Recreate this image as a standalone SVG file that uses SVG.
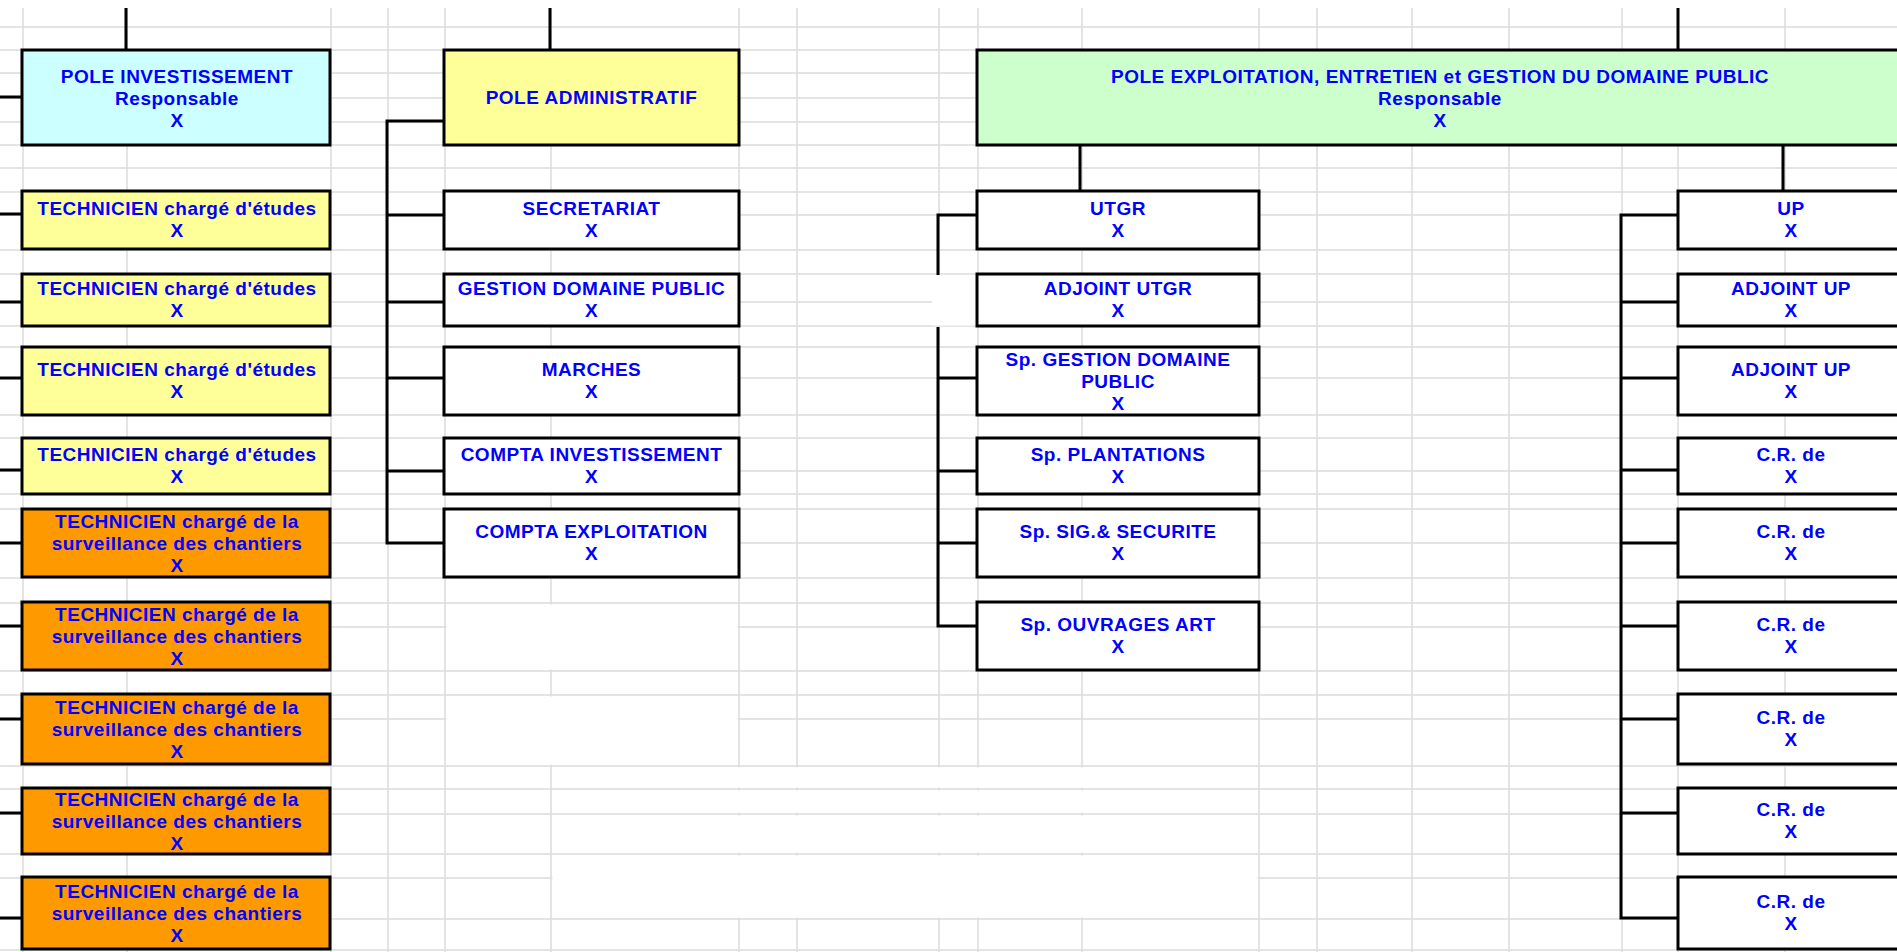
<svg xmlns="http://www.w3.org/2000/svg" width="1897" height="952" viewBox="0 0 1897 952">
<style>
.grid{stroke:#dcdcdc;stroke-width:1.5;fill:none}
.box{stroke:#000;stroke-width:3}
.cy{fill:#CCFFFF}.ye{fill:#FFFF99}.gr{fill:#CCFFCC}.or{fill:#FF9900}.wh{fill:#FFFFFF}
.t{font-family:"Liberation Sans",Arial,sans-serif;font-weight:bold;font-size:19px;fill:#0000FF;text-anchor:middle;letter-spacing:0.5px}
.c{stroke:#000;stroke-width:3;fill:none}
</style>
<rect x="0" y="0" width="1897" height="952" fill="#FFFFFF"/>
<g id="grid">
<path class="grid" d="M23 8V952M127 8V952M331 8V952M388 8V952M445 8V952M551 8V952M739 8V952M797 8V952M939 8V952M978 8V952M1082 8V952M1259 8V952M1317 8V952M1412 8V952M1509 8V952M1622 8V952M1678 8V952M1785 8V952"/>
<path class="grid" d="M0 27H1897M0 50H1897M0 73H1897M0 98H1897M0 122H1897M0 145H1897M0 168H1897M0 192H1897M0 215H1897M0 250H1897M0 274H1897M0 302H1897M0 326H1897M0 347H1897M0 378H1897M0 415H1897M0 438H1897M0 471H1897M0 494H1897M0 509H1897M0 543H1897M0 578H1897M0 603H1897M0 627H1897M0 671H1897M0 695H1897M0 719H1897M0 766H1897M0 789H1897M0 814H1897M0 854H1897M0 878H1897M0 919H1897M0 950H1897"/>
<g fill="#FFFFFF">
<rect x="446.5" y="604.5" width="291" height="65"/>
<rect x="446.5" y="696.5" width="291" height="68"/>
<rect x="552.5" y="767.5" width="705" height="20"/>
<rect x="552.5" y="790.5" width="705" height="22"/>
<rect x="552.5" y="815.5" width="705" height="37"/>
<rect x="552.5" y="855.5" width="705" height="62"/>
<rect x="932" y="275.5" width="44" height="50"/>
</g>
</g>
<g id="connectors">
<path class="c" d="M126 8V50M550 8V50M1678 8V50"/>
<path class="c" d="M0 97H22M0 214H22M0 302H22M0 378H22M0 470H22M0 543H22M0 626H22M0 719H22M0 813H22M0 918H22"/>
<path class="c" d="M444 121H387V543H444M387 215H444M387 302H444M387 378H444M387 471H444"/>
<path class="c" d="M1080 145V191M977 215H938V275M938 327V626H977M938 378H977M938 471H977M938 543H977"/>
<path class="c" d="M1783 145V191M1678 215H1621V918H1678M1621 302H1678M1621 378H1678M1621 470H1678M1621 543H1678M1621 626H1678M1621 719H1678M1621 813H1678"/>
</g>
<g id="pole-investissement"><rect class="box cy" x="22" y="50" width="308" height="95"/><text class="t" x="177" y="82.5">POLE INVESTISSEMENT</text><text class="t" x="177" y="104.5">Responsable</text><text class="t" x="177" y="126.5">X</text></g>
<g id="tech-etudes-1"><rect class="box ye" x="22" y="191" width="308" height="58"/><text class="t" x="177" y="215">TECHNICIEN chargé d'études</text><text class="t" x="177" y="237">X</text></g>
<g id="tech-etudes-2"><rect class="box ye" x="22" y="274" width="308" height="52"/><text class="t" x="177" y="295">TECHNICIEN chargé d'études</text><text class="t" x="177" y="317">X</text></g>
<g id="tech-etudes-3"><rect class="box ye" x="22" y="347" width="308" height="68"/><text class="t" x="177" y="376">TECHNICIEN chargé d'études</text><text class="t" x="177" y="398">X</text></g>
<g id="tech-etudes-4"><rect class="box ye" x="22" y="438" width="308" height="56"/><text class="t" x="177" y="461">TECHNICIEN chargé d'études</text><text class="t" x="177" y="483">X</text></g>
<g id="tech-chantiers-1"><rect class="box or" x="22" y="509" width="308" height="68"/><text class="t" x="177" y="528">TECHNICIEN chargé de la</text><text class="t" x="177" y="550">surveillance des chantiers</text><text class="t" x="177" y="572">X</text></g>
<g id="tech-chantiers-2"><rect class="box or" x="22" y="602" width="308" height="68"/><text class="t" x="177" y="621">TECHNICIEN chargé de la</text><text class="t" x="177" y="643">surveillance des chantiers</text><text class="t" x="177" y="665">X</text></g>
<g id="tech-chantiers-3"><rect class="box or" x="22" y="694" width="308" height="70"/><text class="t" x="177" y="714">TECHNICIEN chargé de la</text><text class="t" x="177" y="736">surveillance des chantiers</text><text class="t" x="177" y="758">X</text></g>
<g id="tech-chantiers-4"><rect class="box or" x="22" y="788" width="308" height="66"/><text class="t" x="177" y="806">TECHNICIEN chargé de la</text><text class="t" x="177" y="828">surveillance des chantiers</text><text class="t" x="177" y="850">X</text></g>
<g id="tech-chantiers-5"><rect class="box or" x="22" y="877" width="308" height="72"/><text class="t" x="177" y="898">TECHNICIEN chargé de la</text><text class="t" x="177" y="920">surveillance des chantiers</text><text class="t" x="177" y="942">X</text></g>
<g id="pole-administratif"><rect class="box ye" x="444" y="50" width="295" height="95"/><text class="t" x="591.5" y="104">POLE ADMINISTRATIF</text></g>
<g id="secretariat"><rect class="box wh" x="444" y="191" width="295" height="58"/><text class="t" x="591.5" y="215">SECRETARIAT</text><text class="t" x="591.5" y="237">X</text></g>
<g id="gestion-domaine-public"><rect class="box wh" x="444" y="274" width="295" height="52"/><text class="t" x="591.5" y="295">GESTION DOMAINE PUBLIC</text><text class="t" x="591.5" y="317">X</text></g>
<g id="marches"><rect class="box wh" x="444" y="347" width="295" height="68"/><text class="t" x="591.5" y="376">MARCHES</text><text class="t" x="591.5" y="398">X</text></g>
<g id="compta-investissement"><rect class="box wh" x="444" y="438" width="295" height="56"/><text class="t" x="591.5" y="461">COMPTA INVESTISSEMENT</text><text class="t" x="591.5" y="483">X</text></g>
<g id="compta-exploitation"><rect class="box wh" x="444" y="509" width="295" height="68"/><text class="t" x="591.5" y="538">COMPTA EXPLOITATION</text><text class="t" x="591.5" y="560">X</text></g>
<g id="pole-exploitation"><rect class="box gr" x="977" y="50" width="930" height="95"/><text class="t" x="1440" y="82.5">POLE EXPLOITATION, ENTRETIEN et GESTION DU DOMAINE PUBLIC</text><text class="t" x="1440" y="104.5">Responsable</text><text class="t" x="1440" y="126.5">X</text></g>
<g id="utgr"><rect class="box wh" x="977" y="191" width="282" height="58"/><text class="t" x="1118" y="215">UTGR</text><text class="t" x="1118" y="237">X</text></g>
<g id="adjoint-utgr"><rect class="box wh" x="977" y="274" width="282" height="52"/><text class="t" x="1118" y="295">ADJOINT UTGR</text><text class="t" x="1118" y="317">X</text></g>
<g id="sp-gestion"><rect class="box wh" x="977" y="347" width="282" height="68"/><text class="t" x="1118" y="366">Sp. GESTION DOMAINE</text><text class="t" x="1118" y="388">PUBLIC</text><text class="t" x="1118" y="410">X</text></g>
<g id="sp-plantations"><rect class="box wh" x="977" y="438" width="282" height="56"/><text class="t" x="1118" y="461">Sp. PLANTATIONS</text><text class="t" x="1118" y="483">X</text></g>
<g id="sp-sig"><rect class="box wh" x="977" y="509" width="282" height="68"/><text class="t" x="1118" y="538">Sp. SIG.&amp; SECURITE</text><text class="t" x="1118" y="560">X</text></g>
<g id="sp-ouvrages"><rect class="box wh" x="977" y="602" width="282" height="68"/><text class="t" x="1118" y="631">Sp. OUVRAGES ART</text><text class="t" x="1118" y="653">X</text></g>
<g id="up"><rect class="box wh" x="1678" y="191" width="230" height="58"/><text class="t" x="1791" y="215">UP</text><text class="t" x="1791" y="237">X</text></g>
<g id="adjoint-up-1"><rect class="box wh" x="1678" y="274" width="230" height="52"/><text class="t" x="1791" y="295">ADJOINT UP</text><text class="t" x="1791" y="317">X</text></g>
<g id="adjoint-up-2"><rect class="box wh" x="1678" y="347" width="230" height="68"/><text class="t" x="1791" y="376">ADJOINT UP</text><text class="t" x="1791" y="398">X</text></g>
<g id="cr-1"><rect class="box wh" x="1678" y="438" width="230" height="56"/><text class="t" x="1791" y="461">C.R. de</text><text class="t" x="1791" y="483">X</text></g>
<g id="cr-2"><rect class="box wh" x="1678" y="509" width="230" height="68"/><text class="t" x="1791" y="538">C.R. de</text><text class="t" x="1791" y="560">X</text></g>
<g id="cr-3"><rect class="box wh" x="1678" y="602" width="230" height="68"/><text class="t" x="1791" y="631">C.R. de</text><text class="t" x="1791" y="653">X</text></g>
<g id="cr-4"><rect class="box wh" x="1678" y="694" width="230" height="70"/><text class="t" x="1791" y="724">C.R. de</text><text class="t" x="1791" y="746">X</text></g>
<g id="cr-5"><rect class="box wh" x="1678" y="788" width="230" height="66"/><text class="t" x="1791" y="816">C.R. de</text><text class="t" x="1791" y="838">X</text></g>
<g id="cr-6"><rect class="box wh" x="1678" y="877" width="230" height="72"/><text class="t" x="1791" y="908">C.R. de</text><text class="t" x="1791" y="930">X</text></g>
</svg>
